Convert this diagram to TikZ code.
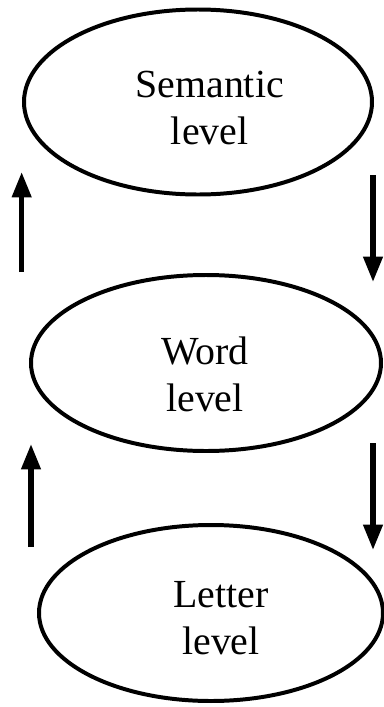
\documentclass[tikz,border=0pt]{standalone}
\usepackage{fontspec}
\setmainfont{Liberation Serif}
\usetikzlibrary{arrows.meta,positioning,calc,shapes.geometric}
\tikzset{
  levelnode/.style={ellipse, draw, line width=3.4pt, inner sep=0pt},
  leveltext/.style={align=center, inner sep=0pt,
    font=\fontsize{34}{40}\selectfont},
  flowarrow/.style={-{Triangle[length=7.6mm,width=5.6mm]}, line width=4.4pt},
}

\begin{document}
\begin{tikzpicture}
    \useasboundingbox (0,0) rectangle (11.52,-21.21);
    % Levels
    \node[levelnode, minimum width=10.44cm, minimum height=5.55cm]
      (semantic) at (5.94,-3.06) {};
    \node[levelnode, minimum width=10.5cm, minimum height=5.28cm]
      (word) at (6.18,-10.89) {};
    \node[levelnode, minimum width=10.32cm, minimum height=5.28cm]
      (letter) at (6.33,-18.39) {};
    % Labels
    \node[leveltext] (semantictext) at ($(semantic.center)+(0.35,-0.17)$)
      {Semantic\\level};
    \node[leveltext] (wordtext) at ($(word.center)+(-0.03,-0.33)$)
      {Word\\level};
    \node[leveltext] (lettertext) at ($(letter.center)+(0.3,-0.15)$)
      {Letter\\level};
    % Arrow ends
    \coordinate (upAfrom) at (0.65,-8.16);
    \coordinate (upAto) at (0.65,-5.16);
    \coordinate (downAfrom) at (11.19,-5.25);
    \coordinate (downAto) at (11.19,-8.46);
    \coordinate (upBfrom) at (0.93,-16.41);
    \coordinate (upBto) at (0.93,-13.32);
    \coordinate (downBfrom) at (11.19,-13.29);
    \coordinate (downBto) at (11.19,-16.5);
    % Bottom-up and top-down
    \draw[flowarrow] (upAfrom) -- (upAto);
    \draw[flowarrow] (downAfrom) -- (downAto);
    \draw[flowarrow] (upBfrom) -- (upBto);
    \draw[flowarrow] (downBfrom) -- (downBto);
  \end{tikzpicture}
\end{document}
